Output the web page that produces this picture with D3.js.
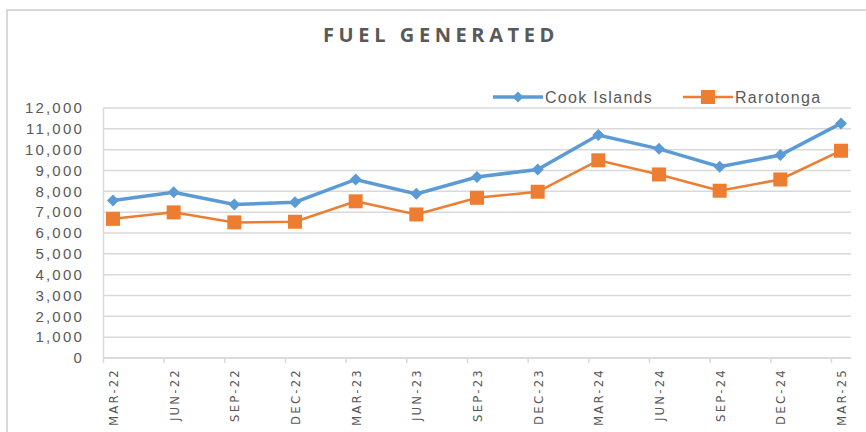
<!DOCTYPE html>
<html>
<head>
<meta charset="utf-8">
<script src="https://cdn.jsdelivr.net/npm/d3@7"></script>
<style>
	body { margin: 0; background: #fff; }
	svg { display: block; }
</style>
</head>
<body>
<script>
// categories (quarters) and the two series
const quarters = ["MAR-22", "JUN-22", "SEP-22", "DEC-22", "MAR-23", "JUN-23", "SEP-23",
	"DEC-23", "MAR-24", "JUN-24", "SEP-24", "DEC-24", "MAR-25"];
const cookIslands = [7560, 7950, 7370, 7480, 8570, 7880, 8690, 9050, 10700, 10040, 9180, 9740, 11260];
const rarotonga = [6680, 6990, 6510, 6540, 7520, 6890, 7690, 7980, 9490, 8810, 8030, 8570, 9950];
const yTicks = [0, 1000, 2000, 3000, 4000, 5000, 6000, 7000, 8000, 9000, 10000, 11000, 12000];
const seriesNames = ["Cook Islands", "Rarotonga"];

const W = 866, H = 432;
const margin = { top: 108, left: 103, right: 15, bottom: 74 };
const width = W - margin.left - margin.right,
	height = H - margin.top - margin.bottom;

const svg = d3.select("body").append("svg")
	.attr("width", W)
	.attr("height", H);

// outer chart frame
svg.append("rect")
	.attr("x", 7).attr("y", 10)
	.attr("width", W + 20).attr("height", H + 20)
	.attr("fill", "#fff")
	.attr("stroke", "#d9d9d9")
	.attr("stroke-width", 2);

// title
svg.append("text")
	.attr("x", 441).attr("y", 42)
	.attr("text-anchor", "middle")
	.style("font-family", "'Open Sans', 'Liberation Sans', sans-serif")
	.style("font-weight", "bold")
	.style("font-size", "20px")
	.style("letter-spacing", "4.6px")
	.attr("fill", "#595959")
	.text("FUEL GENERATED");

const g = svg.append("g")
	.attr("transform", "translate(" + margin.left + "," + margin.top + ")");

// scales
const x = d3.scalePoint()
	.domain(quarters)
	.range([10, 738]);

const y = d3.scaleLinear()
	.domain([0, 12000])
	.range([height, 0]);

// gridlines
g.selectAll(".grid")
	.data(yTicks)
	.enter().append("line")
	.attr("class", "grid")
	.attr("x1", 0).attr("x2", width)
	.attr("y1", d => y(d)).attr("y2", d => y(d))
	.attr("stroke", "#d9d9d9")
	.attr("stroke-width", 1.5);

// y axis
const yAxis = g.append("g")
	.call(d3.axisLeft(y).tickValues(yTicks).tickSize(0).tickPadding(19)
		.tickFormat(d3.format(",")));
yAxis.select(".domain").attr("stroke", "#d9d9d9").attr("stroke-width", 1.5);
yAxis.selectAll("text")
	.style("font-family", "'Liberation Sans', Arial, sans-serif")
	.style("font-size", "15px")
	.style("letter-spacing", "2.2px")
	.attr("fill", "#595959");

// x axis
const xAxis = g.append("g")
	.attr("transform", "translate(0," + height + ")")
	.call(d3.axisBottom(x).tickSize(0).tickPadding(0));
xAxis.select(".domain")
	.attr("d", "M0,0H" + width)
	.attr("stroke", "#d9d9d9").attr("stroke-width", 1.5);
xAxis.selectAll("text")
	.attr("transform", "rotate(-90)")
	.attr("x", -10).attr("y", 0).attr("dy", "0.35em")
	.attr("text-anchor", "end")
	.style("font-family", "'Liberation Sans Narrow', 'DejaVu Sans Condensed', sans-serif")
	.style("font-size", "13px")
	.style("letter-spacing", "2.2px")
	.attr("fill", "#595959");
// tick marks sit a little left of each point
xAxis.selectAll(".tick").append("line")
	.attr("x1", -10).attr("x2", -10)
	.attr("y1", 0).attr("y2", 5)
	.attr("stroke", "#d9d9d9").attr("stroke-width", 1.5);

const line = d3.line()
	.x((d, i) => x(quarters[i]))
	.y(d => y(d));

// Rarotonga line and squares
g.append("path")
	.datum(rarotonga)
	.attr("fill", "none")
	.attr("stroke", "#ed7d31")
	.attr("stroke-width", 2.5)
	.attr("d", line);
g.selectAll(".sq")
	.data(rarotonga)
	.enter().append("rect")
	.attr("class", "sq")
	.attr("x", (d, i) => x(quarters[i]) - 7)
	.attr("y", d => y(d) - 7)
	.attr("width", 14).attr("height", 14)
	.attr("fill", "#ed7d31");

// Cook Islands line and diamonds
g.append("path")
	.datum(cookIslands)
	.attr("fill", "none")
	.attr("stroke", "#5b9bd5")
	.attr("stroke-width", 3.5)
	.attr("d", line);
g.selectAll(".dia")
	.data(cookIslands)
	.enter().append("path")
	.attr("class", "dia")
	.attr("transform", (d, i) => "translate(" + x(quarters[i]) + "," + y(d) + ") rotate(45)")
	.attr("d", d3.symbol().type(d3.symbolSquare).size(72))
	.attr("fill", "#5b9bd5");

// legend
const legend = svg.append("g").attr("transform", "translate(493,97)");
const legendX = [0, 190];
seriesNames.forEach((name, i) => {
	const item = legend.append("g").attr("transform", "translate(" + legendX[i] + ",0)");
	const col = i === 0 ? "#5b9bd5" : "#ed7d31";
	item.append("line")
		.attr("x1", 0).attr("x2", 50)
		.attr("stroke", col)
		.attr("stroke-width", i === 0 ? 3.5 : 2.5);
	if (i === 0) {
		item.append("path")
			.attr("transform", "translate(25,0) rotate(45)")
			.attr("d", d3.symbol().type(d3.symbolSquare).size(60))
			.attr("fill", col);
	} else {
		item.append("rect")
			.attr("x", 18).attr("y", -7)
			.attr("width", 14).attr("height", 14)
			.attr("fill", col);
	}
	item.append("text")
		.attr("x", 52).attr("dy", "0.35em")
		.style("font-family", "'Liberation Sans', Arial, sans-serif")
		.style("font-size", "16px")
		.style("letter-spacing", "1.3px")
		.attr("fill", "#595959")
		.text(name);
});
</script>
</body>
</html>
